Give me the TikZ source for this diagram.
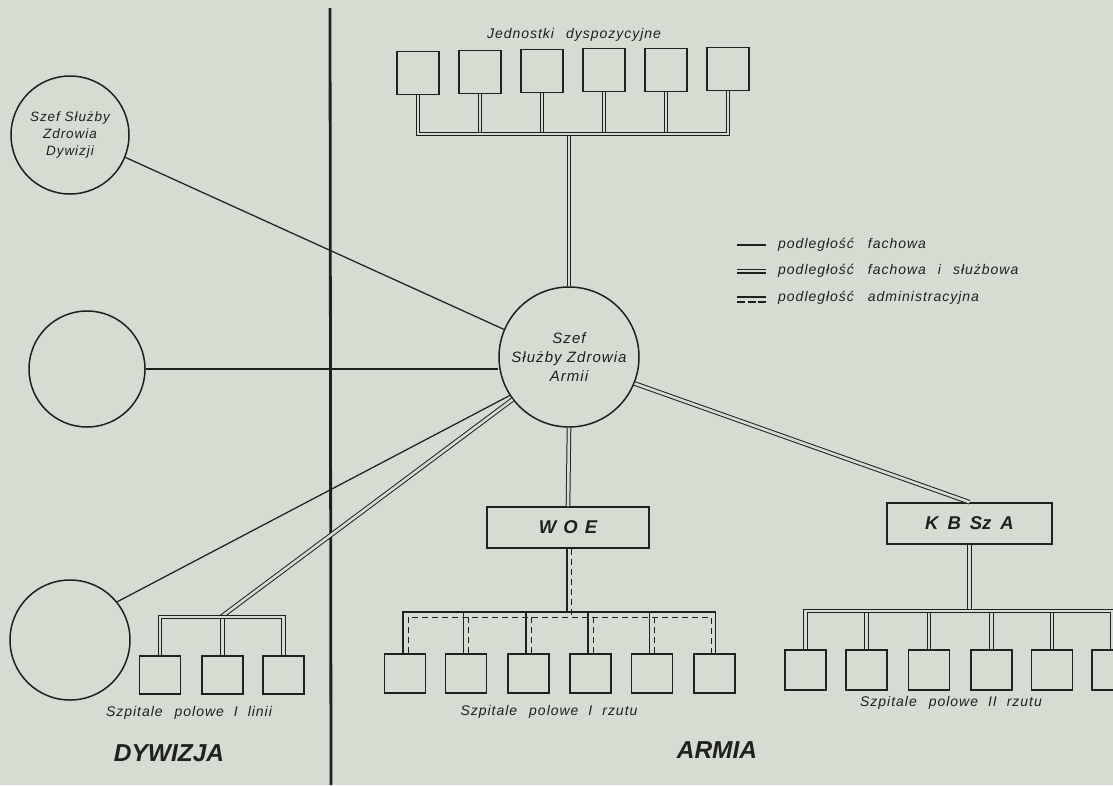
\documentclass[tikz,border=0pt]{standalone}
\usepackage{fontspec}
\setmainfont{Liberation Sans}
\newfontfamily\hand[LetterSpace=7]{Liberation Sans}
\definecolor{bgc}{RGB}{213,220,209}
\definecolor{inkc}{RGB}{32,32,30}
\begin{document}
\begin{tikzpicture}[x=1pt,y=-1pt,
  sgl/.style={draw=inkc,line width=1.25pt},
  dbl/.style={draw=inkc,line width=1pt,double=bgc,double distance=2.6pt},
  dsh/.style={draw=inkc,line width=1pt,dash pattern=on 6pt off 4pt},
  sq/.style={draw=inkc,line width=1.4pt,rectangle,inner sep=0pt,minimum width=41pt,minimum height=40pt},
  org/.style={draw=inkc,line width=1.5pt,rectangle,inner sep=0pt,minimum width=162pt,minimum height=41pt,
    font=\bfseries\itshape\fontsize{18.5}{20}\selectfont,text=inkc},
  circ/.style={draw=inkc,line width=1.5pt,circle,inner sep=0pt,align=center,text=inkc},
  lbl/.style={font=\hand\itshape\fontsize{14}{16}\selectfont,text=inkc,inner sep=0pt},
  big/.style={font=\bfseries\itshape\fontsize{24.5}{26}\selectfont,text=inkc,inner sep=0pt}
]
\fill[bgc] (0,0) rectangle (1113,785);
\useasboundingbox (0,0) rectangle (1113,785);

% divider
\draw[inkc,line width=2.8pt] (330,8) -- (331,785);

% top units
\foreach \i/\x/\y in {1/418/73,2/480/72,3/542/71,4/604/70,5/666/70,6/728/69}
  \node[sq,minimum width=42pt,minimum height=43pt] (j\i) at (\x,\y) {};
\node[lbl] (jlab) at (574,35) {Jednostki\hspace{12pt}dyspozycyjne};
\coordinate (jbar) at (569,134);

% army chief
\node[circ,minimum size=140pt,font=\hand\itshape\fontsize{15}{19}\selectfont] (army) at (569,357)
  {Szef\\Służby Zdrowia\\Armii};

\foreach \i in {2,...,5} \draw[dbl] (j\i.south) -- (j\i.south |- jbar);
\draw[dbl] (army.north) -- (army.north |- jbar);
\draw[dbl] (j1.south) |- (j6.south |- jbar) -- (j6.south);

% division circles
\node[circ,minimum size=118pt,font=\hand\itshape\fontsize{13.5}{17}\selectfont] (c1) at (70,135)
  {Szef Służby\\Zdrowia\\Dywizji};
\node[circ,minimum size=116pt] (c2) at (87,369) {};
\node[circ,minimum size=120pt] (c3) at (70,640) {};

\draw[sgl] (c1.338) -- (army.157);
\draw[sgl] (c2.east) -- (c2.east -| army.west);
\draw[sgl] (c3.39) -- (army.213);

% division hospitals
\foreach \i/\x in {1/160,2/222.5,3/283.5} \node[sq,minimum height=38pt] (d\i) at (\x,675) {};
\coordinate (dbar) at (221,617);
\draw[dbl] (dbar) -- (army.217);
\draw[dbl] (d2.north) -- (d2.north |- dbar);
\draw[dbl] (d1.north) |- (d3.north |- dbar) -- (d3.north);
\node[lbl] (dlab) at (189,713) {Szpitale\hspace{12pt}polowe\hspace{10pt}I\hspace{10pt}linii};
\node[big] (dyw) at (169,753) {DYWIZJA};

% legend
\coordinate (l1a) at (737,245); \coordinate (l1b) at (766,245);
\coordinate (l2a) at (737,271); \coordinate (l2b) at (766,271);
\coordinate (l3a) at (737,297); \coordinate (l3b) at (766,297);
\coordinate (l4a) at (737,302); \coordinate (l4b) at (766,302);
\draw[sgl,line width=1.6pt] (l1a) -- (l1b);
\draw[dbl,line width=1.3pt,double distance=2.4pt] (l2a) -- (l2b);
\draw[sgl,line width=1.4pt] (l3a) -- (l3b);
\draw[dsh,line width=1.4pt,dash pattern=on 8pt off 2.5pt] (l4a) -- (l4b);
\node[lbl,anchor=west] (t1) at (778,245) {podległość\hspace{14pt}fachowa};
\node[lbl,anchor=west] (t2) at (778,271) {podległość\hspace{14pt}fachowa\hspace{12pt}i\hspace{12pt}służbowa};
\node[lbl,anchor=west] (t3) at (778,298) {podległość\hspace{14pt}administracyjna};

% WOE
\node[org] (woe) at (568,527.5) {W\hspace{7pt}O\hspace{7pt}E};
\draw[dbl] (army.south) -- (woe.north);
\foreach \i/\x in {1/405,2/466,3/528.5,4/590.5,5/652,6/714.5}
  \node[sq,minimum height=39pt] (w\i) at (\x,673.5) {};
\coordinate (wbs) at (568,612);
\coordinate (wbd) at (573,617);
\coordinate (woeS) at ([xshift=-1pt]woe.south);
\coordinate (woeD) at ([xshift=3.5pt]woe.south);
\foreach \i in {1,...,6} {
  \coordinate (ws\i) at ([xshift=-2.5pt]w\i.north);
  \coordinate (wd\i) at ([xshift=2.5pt]w\i.north);
}
\coordinate (ws1) at ([xshift=-2pt]w1.north);
\coordinate (wd1) at ([xshift=3.5pt]w1.north);
\coordinate (ws6) at ([xshift=1pt]w6.north);
\coordinate (wd6) at ([xshift=-3.5pt]w6.north);
\draw[sgl] (woeS) -- (woeS |- wbs);
\draw[dsh] (woeD) -- (woeD |- wbd);
\foreach \i in {2,...,5} {
  \draw[sgl] (ws\i) -- (ws\i |- wbs);
  \draw[dsh] (wd\i) -- (wd\i |- wbd);
}
\draw[sgl] (ws1) |- (ws6 |- wbs) -- (ws6);
\draw[dsh] (wd1) |- (wd6 |- wbd) -- (wd6);
\node[lbl] (wlab) at (549,712) {Szpitale\hspace{12pt}polowe\hspace{10pt}I\hspace{10pt}rzutu};

% KBSzA
\node[org,minimum width=165pt] (kb) at (969.5,523.5) {K\hspace{9pt}B\hspace{9pt}Sz\hspace{9pt}A};
\draw[dbl] (army.338) -- (kb.north);
\foreach \i/\x in {1/805.5,2/866.5,3/929,4/991.5,5/1052,6/1112.5}
  \node[sq] (k\i) at (\x,670) {};
\coordinate (kbar) at (970,611);
\draw[dbl] (kb.south) -- (kb.south |- kbar);
\foreach \i in {2,...,5} \draw[dbl] (k\i.north) -- (k\i.north |- kbar);
\draw[dbl] (k1.north) |- (k6.north |- kbar) -- (k6.north);
\node[lbl] (klab) at (951,703) {Szpitale\hspace{12pt}polowe\hspace{10pt}II\hspace{10pt}rzutu};

\node[big] (arm) at (717,750) {ARMIA};
\end{tikzpicture}
\end{document}
